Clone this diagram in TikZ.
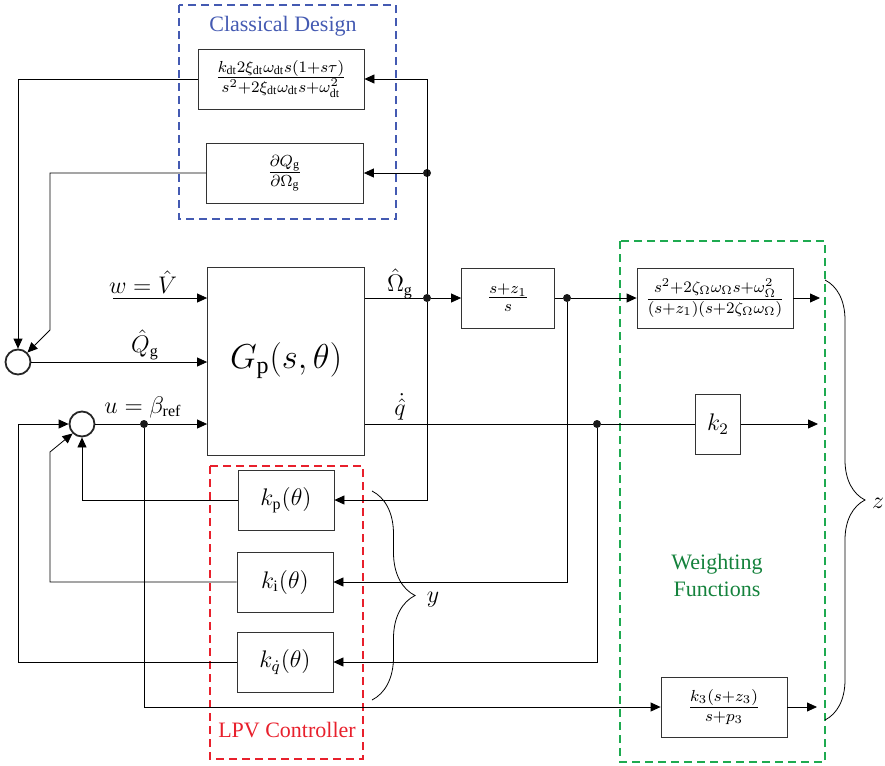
\documentclass[tikz,border=0pt]{standalone}
\usepackage{amsmath, amssymb}
\usepackage{fontspec}
\setmainfont{Liberation Serif}
\usepackage{tikz}
\usetikzlibrary{arrows.meta, decorations.pathreplacing}

\definecolor{cdblue}{RGB}{68,90,178}
\definecolor{lpvred}{RGB}{232,32,44}
\definecolor{wfgreen}{RGB}{30,170,80}
\definecolor{wftext}{RGB}{20,130,60}

\begin{document}
\begin{tikzpicture}[x=0.5pt, y=-0.5pt, font=\large,
		blk/.style={draw=black!80, minimum height=30pt, inner sep=1pt},
		sum/.style={circle, draw=black!85, line width=0.9pt, minimum size=12.5pt, inner sep=0pt},
		dot/.style={circle, fill=black!90, minimum size=4pt, inner sep=0pt},
		arr/.style={-{Triangle[length=5pt, width=4.5pt]}},
		lbl/.style={inner sep=0pt},
		title/.style={inner sep=0pt, font=\fontsize{11}{13.5}\selectfont},
		dashbox/.style={dashed, line width=0.8pt, dash pattern=on 4pt off 2.5pt}]
			\useasboundingbox (0,0) rectangle (885,766);
			
			% dashed groups
			\draw[dashbox, cdblue] (179,5) rectangle (396,219);
			\draw[dashbox, lpvred] (210,466) rectangle (363,759);
			\draw[dashbox, wfgreen] (620,241) rectangle (825,762);
			\node[title, text=cdblue] (cdtitle) at (283,26) {Classical Design};
			\node[title, text=lpvred] (lpvtitle) at (287,730) {LPV Controller};
			\node[title, text=wftext, align=center] (wftitle) at (717,575) {Weighting\\Functions};
			
			% blocks
			\node[blk, minimum width=83pt] (cd1) at (281,79) {$\frac{k_{\mathrm{dt}}2\xi_{\mathrm{dt}}\omega_{\mathrm{dt}}s(1+s\tau)}{s^2+2\xi_{\mathrm{dt}}\omega_{\mathrm{dt}}s+\omega_{\mathrm{dt}}^2}$};
			\node[blk, minimum width=78.5pt] (cd2) at (285,173) {$\frac{\partial Q_{\mathrm{g}}}{\partial \Omega_{\mathrm{g}}}$};
			\node[blk, minimum width=78.5pt, minimum height=94pt, font=\LARGE] (plant) at (286,361) {$G_{\mathrm{p}}(s,\theta)$};
			\node[blk, minimum width=46.5pt] (f1) at (508,298) {$\frac{s+z_1}{s}$};
			\node[blk, minimum width=78pt] (w1) at (715,298) {$\frac{s^2+2\zeta_\Omega\omega_\Omega s+\omega_\Omega^2}{(s+z_1)(s+2\zeta_\Omega\omega_\Omega)}$};
			\node[blk, minimum width=22.5pt] (k2) at (718,424) {$k_2$};
			\node[blk, minimum width=63pt] (k3) at (724,707) {$\frac{k_3(s+z_3)}{s+p_3}$};
			\node[blk, minimum width=48pt] (kp) at (286,500) {$k_{\mathrm{p}}(\theta)$};
			\node[blk, minimum width=48pt] (ki) at (285,582) {$k_{\mathrm{i}}(\theta)$};
			\node[blk, minimum width=48pt] (kq) at (285,662) {$k_{\dot{q}}(\theta)$};
			
			% summing junctions and branch points
			\node[sum] (s1) at (18,362) {};
			\node[sum] (s2) at (82,424) {};
			\node[dot] (dO) at (427,298) {};
			\node[dot] (dQ) at (427,173) {};
			\node[dot] (d1) at (567,298) {};
			\node[dot] (dq) at (597,424) {};
			\node[dot] (du) at (144,424) {};
			
			\coordinate (win) at (113,298);
			\coordinate (b1) at (50,330);
			\coordinate (b2) at (50,452);
			\coordinate (b3) at (18,424);
			\coordinate (z1) at (820,298);
			\coordinate (z2) at (818,424);
			\coordinate (z3) at (817,707);
			
			% signal labels
			\node[lbl] (lw) at (143,282) {$w=\hat{V}$};
			\node[lbl] (lQ) at (145,345) {$\hat{Q}_{\mathrm{g}}$};
			\node[lbl] (lu) at (143,407) {$u=\beta_{\mathrm{ref}}$};
			\node[lbl] (lO) at (400,284) {$\hat{\Omega}_{\mathrm{g}}$};
			\node[lbl] (lq) at (400,407) {$\dot{\hat{q}}$};
			
			% plant inputs and outputs
			\draw[arr] (win) -- (plant.west|-win);
			\draw[arr] (s1.east) -- (plant.west|-s1);
			\draw (s2.east) -- (du);
			\draw[arr] (du) -- (plant.west|-du);
			\draw (plant.east|-dO) -- (dO);
			\draw[arr] (dO) -- (f1.west);
			\draw (plant.east|-dq) -- (dq);
			
			% classical design loop
			\draw[arr] (dO) |- (cd1.east);
			\draw[arr] (dQ) -- (cd2.east);
			\draw[arr] (cd1.west) -| (s1.north);
			\draw[arr] (cd2.west) -| (b1) -- (s1.north east);
			
			% weighting functions
			\draw (f1.east) -- (d1);
			\draw[arr] (d1) -- (w1.west);
			\draw[arr] (w1.east) -- (z1);
			\draw (dq) -- (k2.west);
			\draw[arr] (k2.east) -- (z2);
			\draw[arr] (du) |- (k3.west);
			\draw[arr] (k3.east) -- (z3);
			
			% LPV controller
			\draw[arr] (dO) |- (kp.east);
			\draw[arr] (d1) |- (ki.east);
			\draw[arr] (dq) |- (kq.east);
			\draw[arr] (kp.west) -| (s2.south);
			\draw[arr] (ki.west) -| (b2) -- (s2.south west);
			\draw[arr] (kq.west) -| (b3) -- (s2.west);
			
			% braces
			\draw[decorate, decoration={brace, amplitude=21.5pt}] (372,491) -- (372,700);
			\draw[decorate, decoration={brace, amplitude=20pt}] (825,280) -- (825,720);
			\node[lbl] (ly) at (433,600) {$y$};
			\node[lbl] (lz) at (878,503) {$z$};
		\end{tikzpicture}
\end{document}
